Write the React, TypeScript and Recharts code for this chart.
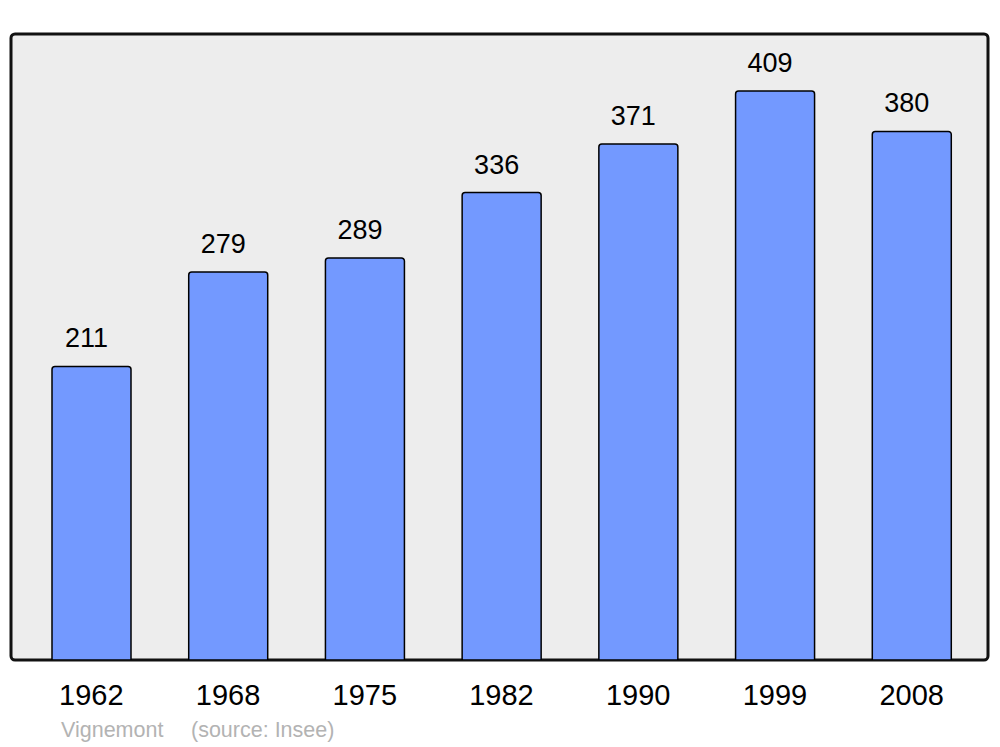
import React from 'react';
import * as R from 'recharts';
import { BarChart, Bar, XAxis, YAxis, LabelList, CartesianGrid } from 'recharts';

const years = ['1962', '1968', '1975', '1982', '1990', '1999', '2008'];
const population = [211, 279, 289, 336, 371, 409, 380];
const sourceName = 'Vignemont';
const sourceNote = '(source: Insee)';

const data = years.map((y, i) => ({ year: y, value: population[i] }));

const FONT = '"Liberation Sans", Arial, sans-serif';

const Frame = () => {
  const hook: any = (R as any).usePlotArea || (R as any).useOffset;
  const area = hook ? hook() : null;
  if (!area) return null;
  const x = area.x ?? area.left;
  const y = area.y ?? area.top;
  const w = area.width;
  const h = area.height;
  if (x == null || y == null || w == null || h == null) return null;
  return <rect x={x} y={y} width={w} height={h} rx={4} ry={4} fill="none" stroke="#111" strokeWidth={3} />;
};

const SourceText = () => (
  <g>
    <text x={61} y={737} fontSize={21.5} fill="#b3b3b3" fontFamily={FONT}>{sourceName}</text>
    <text x={191} y={737} fontSize={21.5} fill="#b3b3b3" fontFamily={FONT}>{sourceNote}</text>
  </g>
);

export default function App() {
  return (
    <div style={{ position: 'absolute', left: 0, top: 0, background: '#fff' }}>
      <BarChart
        width={1000}
        height={747}
        data={data}
        margin={{ top: 34, right: 12, left: 11, bottom: 0 }}
        style={{ fontFamily: FONT }}
      >
        <CartesianGrid fill="#ededed" fillOpacity={1} horizontal={false} vertical={false} />
        <XAxis
          dataKey="year"
          height={87}
          axisLine={false}
          tickLine={false}
          tickSize={0}
          tickMargin={24}
          padding={{ left: 12, right: 8 }}
          tick={{ fontSize: 29, fill: '#000', fontFamily: FONT }}
          interval={0}
        />
        <YAxis hide domain={[0, 450]} allowDataOverflow />
        <Bar
          dataKey="value"
          barSize={79}
          fill="#7399ff"
          stroke="#000"
          strokeWidth={1.5}
          radius={[3, 3, 0, 0]}
          isAnimationActive={false}
        >
          <LabelList dataKey="value" position="top" offset={19} dx={-5} fill="#000" fontSize={27} fontFamily={FONT} />
        </Bar>
        <Frame />
        <SourceText />
      </BarChart>
    </div>
  );
}
